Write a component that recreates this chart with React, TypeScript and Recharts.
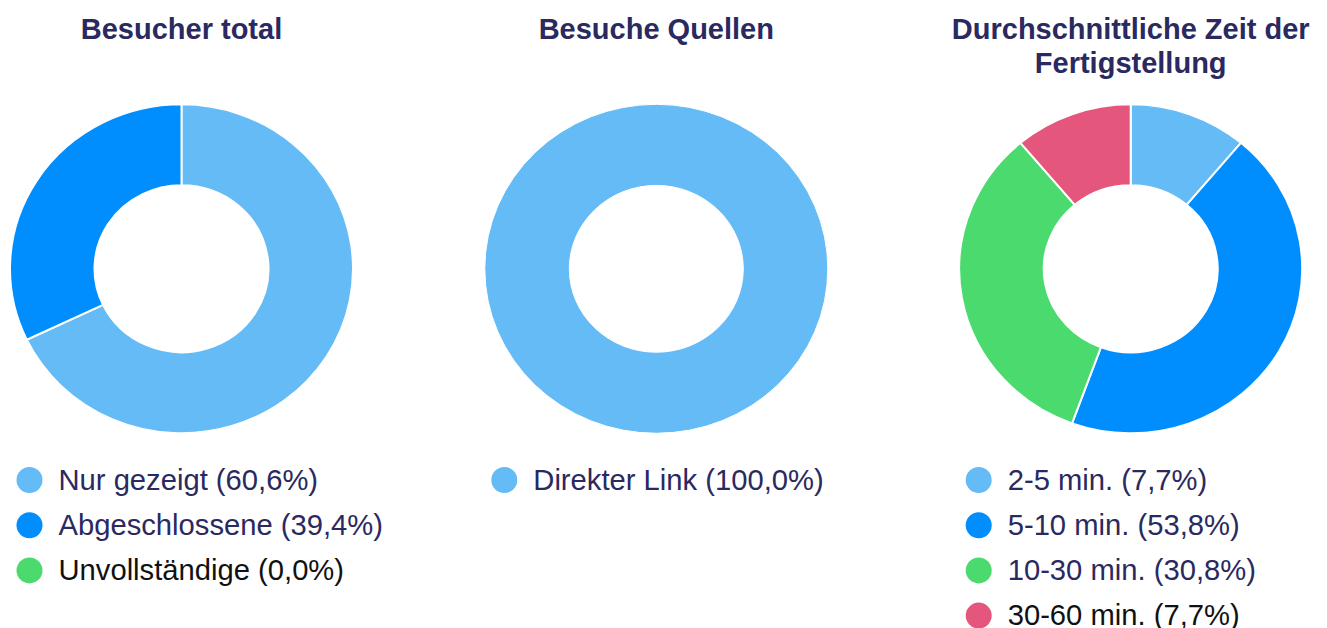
import React from 'react';
import { PieChart, Pie, Cell } from 'recharts';

// ---- data ----
const visitorNames = ['Nur gezeigt', 'Abgeschlossene', 'Unvollständige'];
const visitorLabels = ['Nur gezeigt (60,6%)', 'Abgeschlossene (39,4%)', 'Unvollständige (0,0%)'];
const visitorValues = [67.9, 32.1, 0];

const sourceNames = ['Direkter Link'];
const sourceLabels = ['Direkter Link (100,0%)'];
const sourceValues = [100];

const timeNames = ['2-5 min.', '5-10 min.', '10-30 min.', '30-60 min.'];
const timeLabels = ['2-5 min. (7,7%)', '5-10 min. (53,8%)', '10-30 min. (30,8%)', '30-60 min. (7,7%)'];
const timeValues = [1, 4, 3, 1];

const titles = [['Besucher total'], ['Besuche Quellen'], ['Durchschnittliche Zeit der', 'Fertigstellung']];

// ---- styles ----
const LIGHT = '#64BBF5';
const BLUE = '#008EFF';
const GREEN = '#4ADA6E';
const PINK = '#E4567C';
const NAVY = '#2A2960';
const FONT = '"Liberation Sans", Arial, sans-serif';

const visitorColors = [LIGHT, BLUE, GREEN];
const sourceColors = [LIGHT];
const timeColors = [LIGHT, BLUE, GREEN, PINK];

const visitorText = [NAVY, NAVY, '#111'];
const sourceText = [NAVY];
const timeText = [NAVY, NAVY, NAVY, '#111'];

const W = 1327;
const H = 628;
const CY = 268.8;
const CXS = [181.5, 656.3, 1130.7];
const OUTER = 171.5;
const INNER = 87;
const K = 0.959; // vertical squash of the donuts

const RAD = Math.PI / 180;

function EllipseSector(props: any) {
  const { cx, cy, innerRadius, outerRadius, startAngle, endAngle, fill } = props;
  const pt = (r: number, a: number) => [cx + r * Math.cos(-a * RAD), cy + r * K * Math.sin(-a * RAD)];
  const sweep = Math.abs(endAngle - startAngle);
  if (sweep < 1e-6) return null;
  if (sweep >= 359.999) {
    const ro = outerRadius, ri = innerRadius;
    const d =
      `M ${cx} ${cy - ro * K} A ${ro} ${ro * K} 0 1 1 ${cx} ${cy + ro * K} A ${ro} ${ro * K} 0 1 1 ${cx} ${cy - ro * K} Z ` +
      `M ${cx} ${cy - ri * K} A ${ri} ${ri * K} 0 1 0 ${cx} ${cy + ri * K} A ${ri} ${ri * K} 0 1 0 ${cx} ${cy - ri * K} Z`;
    return <path d={d} fill={fill} fillRule="evenodd" stroke="#fff" strokeWidth={1} />;
  }
  const large = sweep > 180 ? 1 : 0;
  const cw = endAngle < startAngle ? 1 : 0;
  const [x1, y1] = pt(outerRadius, startAngle);
  const [x2, y2] = pt(outerRadius, endAngle);
  const [x3, y3] = pt(innerRadius, endAngle);
  const [x4, y4] = pt(innerRadius, startAngle);
  const d =
    `M ${x1} ${y1} A ${outerRadius} ${outerRadius * K} 0 ${large} ${cw} ${x2} ${y2} ` +
    `L ${x3} ${y3} A ${innerRadius} ${innerRadius * K} 0 ${large} ${1 - cw} ${x4} ${y4} Z`;
  return <path d={d} fill={fill} stroke="#fff" strokeWidth={2} strokeLinejoin="miter" />;
}

const groups = [
  { names: visitorNames, labels: visitorLabels, values: visitorValues, colors: visitorColors, text: visitorText },
  { names: sourceNames, labels: sourceLabels, values: sourceValues, colors: sourceColors, text: sourceText },
  { names: timeNames, labels: timeLabels, values: timeValues, colors: timeColors, text: timeText },
];

const LEGEND_OFFSET = 152; // circle centre left of donut centre

export default function App() {
  return (
    <div style={{ position: 'absolute', left: 0, top: 0, width: W, height: H, background: '#fff', fontFamily: FONT }}>
      <div style={{ position: 'absolute', left: 0, top: 0 }}>
        <PieChart width={W} height={H} margin={{ top: 0, right: 0, bottom: 0, left: 0 }}>
          {groups.map((g, gi) => (
            <Pie
              key={gi}
              data={g.names.map((n, i) => ({ name: n, value: g.values[i] }))}
              dataKey="value"
              nameKey="name"
              cx={CXS[gi]}
              cy={CY}
              innerRadius={INNER}
              outerRadius={OUTER}
              startAngle={90}
              endAngle={-270}
              isAnimationActive={false}
              shape={EllipseSector}
              stroke="#fff"
            >
              {g.names.map((n, i) => (
                <Cell key={n} fill={g.colors[i]} />
              ))}
            </Pie>
          ))}
        </PieChart>
      </div>
      <svg width={W} height={H} style={{ position: 'absolute', left: 0, top: 0, pointerEvents: 'none' }}>
        {titles.map((lines, gi) =>
          lines.map((t, li) => (
            <text
              key={`${gi}-${li}`}
              x={CXS[gi]}
              y={38.5 + li * 34.5}
              textAnchor="middle"
              fontFamily={FONT}
              fontWeight="bold"
              fontSize={29}
              fill={NAVY}
            >
              {t}
            </text>
          ))
        )}
        {groups.map((g, gi) =>
          g.labels.map((lab, i) => {
            const cx = CXS[gi] - LEGEND_OFFSET;
            const cy = 480 + i * 45.2;
            return (
              <g key={`${gi}-${i}`}>
                <circle cx={cx} cy={cy} r={13} fill={g.colors[i]} />
                <text x={cx + 29} y={cy + 9.5} fontFamily={FONT} fontSize={29.2} fill={g.text[i]}>
                  {lab}
                </text>
              </g>
            );
          })
        )}
      </svg>
    </div>
  );
}
